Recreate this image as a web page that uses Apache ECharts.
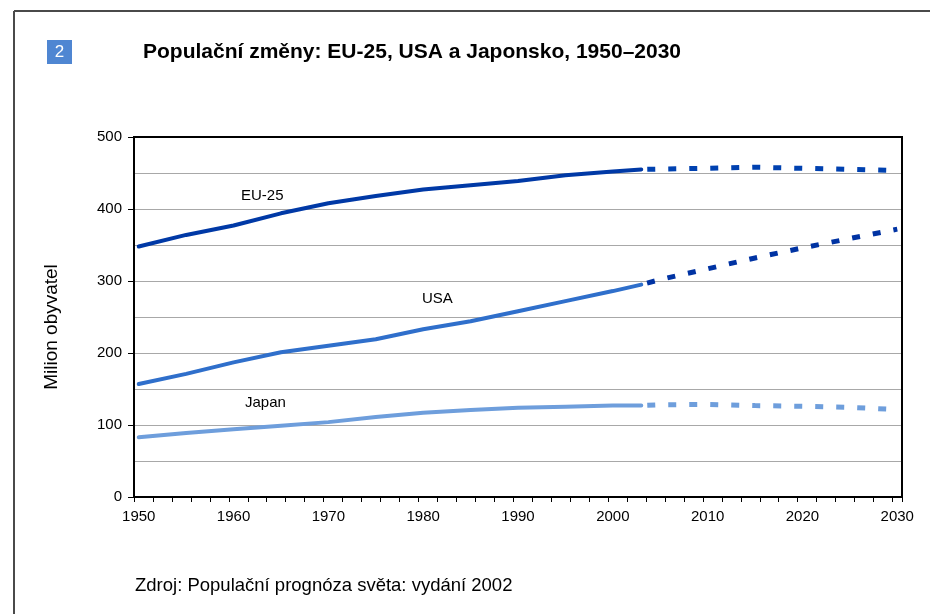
<!DOCTYPE html>
<html>
<head>
<meta charset="utf-8">
<script src="https://cdn.jsdelivr.net/npm/echarts@6/dist/echarts.min.js"></script>
<style>
html,body{margin:0;padding:0;background:#fff;}
#chart{width:930px;height:614px;}
</style>
</head>
<body>
<div id="chart"></div>
<script>
// Categories (years on the x axis)
var firstYear = 1950, lastYear = 2030;
var years = [];
for (var y = firstYear; y <= lastYear; y++) years.push(String(y));

// Actual data years and values (million people)
var actualYears = [1950, 1955, 1960, 1965, 1970, 1975, 1980, 1985, 1990, 1995, 2000, 2003];
var euActual    = [348, 364, 377, 394, 408, 418, 427, 433, 439, 447, 452, 455];
var usaActual   = [157, 171, 187, 201, 210, 219, 233, 244, 258, 272, 286, 295];
var japanActual = [83, 89, 94, 99, 104, 111, 117, 121, 124, 125.5, 127, 127];

// Projection years and values
var projYears   = [2003, 2005, 2010, 2015, 2020, 2025, 2030];
var euProj      = [455, 455.5, 456.5, 458, 456.5, 455, 453.5];
var usaProj     = [295, 302, 317, 332, 346, 359, 372];
var japanProj   = [127, 128, 128.5, 127, 126, 124.5, 121.5];

// Y-axis tick values
var yMin = 0, yMax = 500, yStep = 100;

var seriesNames = ['EU-25', 'USA', 'Japan'];

function pairs(ys, vs) {
  return ys.map(function (yr, i) { return [String(yr), vs[i]]; });
}

var cEU = '#0039a6', cEUd = '#0041b0';
var cUSA = '#2f6fcb', cUSAd = '#0033a3';
var cJP = '#6e9edc', cJPd = '#6e9edc';

function solid(name, data, color) {
  return {
    name: name, type: 'line', data: data, showSymbol: false, symbol: 'none',
    connectNulls: true, silent: true,
    lineStyle: { color: color, width: 4, cap: 'round' }, z: 3
  };
}
function dashed(name, data, color) {
  return {
    name: name + ' (projekce)', type: 'line', data: data, showSymbol: false, symbol: 'none',
    connectNulls: true, silent: true,
    lineStyle: { color: color, width: 5, type: [8, 13], dashOffset: -6, cap: 'butt' }, z: 3
  };
}

var chart = echarts.init(document.getElementById('chart'), null, { renderer: 'canvas' });
var font = 'Liberation Sans, Arial, sans-serif';

chart.setOption({
  animation: false,
  backgroundColor: '#ffffff',
  textStyle: { fontFamily: font },
  grid: {
    left: 134, right: 28, top: 137, bottom: 117,
    show: true, borderColor: '#000', borderWidth: 2, backgroundColor: 'transparent', z: 4
  },
  xAxis: {
    type: 'category',
    data: years,
    boundaryGap: true,
    axisLine: { show: true, lineStyle: { color: '#000', width: 2 } },
    axisTick: { show: true, interval: 1, length: 5, alignWithLabel: false, lineStyle: { color: '#000', width: 1 } },
    axisLabel: { interval: 9, color: '#000', fontSize: 15, margin: 12, fontFamily: font },
    splitLine: { show: false }
  },
  yAxis: {
    type: 'value',
    min: yMin, max: yMax, interval: yStep,
    axisLine: { show: true, lineStyle: { color: '#000', width: 2 } },
    axisTick: { show: true, length: 6, lineStyle: { color: '#000', width: 1 } },
    axisLabel: { color: '#000', fontSize: 15, margin: 12, fontFamily: font },
    splitLine: { show: true, lineStyle: { color: '#a8a8a8', width: 1 } },
    minorTick: { show: false, splitNumber: 2 },
    minorSplitLine: { show: true, lineStyle: { color: '#a8a8a8', width: 1 } }
  },
  series: [
    solid(seriesNames[0], pairs(actualYears, euActual), cEU),
    dashed(seriesNames[0], pairs(projYears, euProj), cEUd),
    solid(seriesNames[1], pairs(actualYears, usaActual), cUSA),
    dashed(seriesNames[1], pairs(projYears, usaProj), cUSAd),
    solid(seriesNames[2], pairs(actualYears, japanActual), cJP),
    dashed(seriesNames[2], pairs(projYears, japanProj), cJPd)
  ],
  graphic: [
    { type: 'line', shape: { x1: 14, y1: 11, x2: 930, y2: 11 }, style: { stroke: '#4a4a4a', lineWidth: 2 } },
    { type: 'line', shape: { x1: 14, y1: 11, x2: 14, y2: 614 }, style: { stroke: '#4a4a4a', lineWidth: 2 } },
    { type: 'rect', shape: { x: 47, y: 40, width: 25, height: 24 }, style: { fill: '#4f86d2' } },
    { type: 'text', x: 59.5, y: 52, style: { text: '2', fill: '#fff', fontSize: 17, fontFamily: font, align: 'center', verticalAlign: 'middle' } },
    { type: 'text', x: 143, y: 52, style: { text: 'Populační změny: EU-25, USA a Japonsko, 1950–2030', fill: '#000', fontSize: 21, fontWeight: 'bold', fontFamily: font, verticalAlign: 'middle' } },
    { type: 'text', x: 52, y: 327, rotation: Math.PI / 2, style: { text: 'Milion obyvatel', fill: '#000', fontSize: 19, fontFamily: font, align: 'center', verticalAlign: 'middle' } },
    { type: 'text', x: 241, y: 196, style: { text: 'EU-25', fill: '#000', fontSize: 15, fontFamily: font, verticalAlign: 'middle' } },
    { type: 'text', x: 422, y: 299, style: { text: 'USA', fill: '#000', fontSize: 15, fontFamily: font, verticalAlign: 'middle' } },
    { type: 'text', x: 245, y: 403, style: { text: 'Japan', fill: '#000', fontSize: 15, fontFamily: font, verticalAlign: 'middle' } },
    { type: 'text', x: 135, y: 586, style: { text: 'Zdroj: Populační prognóza světa: vydání 2002', fill: '#000', fontSize: 18.5, fontFamily: font, verticalAlign: 'middle' } }
  ]
});
</script>
</body>
</html>
